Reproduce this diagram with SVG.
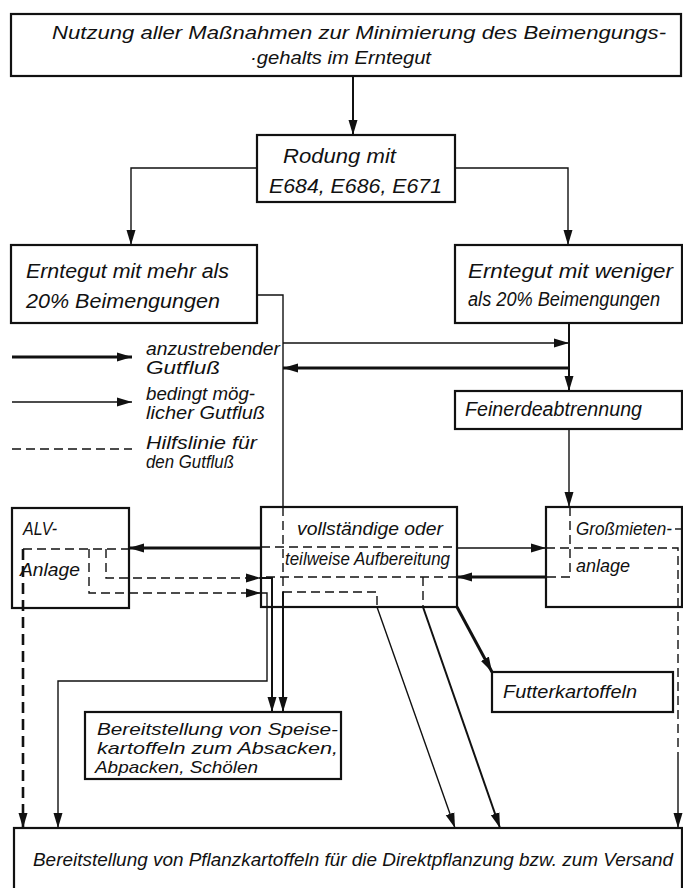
<svg xmlns="http://www.w3.org/2000/svg" width="683" height="888" viewBox="0 0 683 888">
<style>
.box{fill:#fff;stroke:#111;stroke-width:2.2}
.t{font-family:"Liberation Sans",Arial,sans-serif;font-style:italic;font-size:19px;fill:#111}
.b{font-size:20px}
.s{font-size:18px}
.xs{font-size:17px}
.thin{fill:none;stroke:#111;stroke-width:1.4}
.mid{fill:none;stroke:#111;stroke-width:2}
.thick{fill:none;stroke:#111;stroke-width:3}
.dash{fill:none;stroke:#111;stroke-width:1.4;stroke-dasharray:9 5}
.dashT{fill:none;stroke:#111;stroke-width:2.6;stroke-dasharray:11 6}
</style>
<defs>
<marker id="ah" markerUnits="userSpaceOnUse" markerWidth="16" markerHeight="10" refX="15" refY="5" orient="auto"><path d="M0,0.5 L15,5 L0,9.5 Z" fill="#111"/></marker>
</defs>
<rect width="683" height="888" fill="#fff"/>

<g id="connectors">
<path class="mid" d="M353,76 V135" marker-end="url(#ah)"/>
<path class="thin" d="M257,168 H131 V245" marker-end="url(#ah)"/>
<path class="thin" d="M455,168 H568 V245" marker-end="url(#ah)"/>
<path class="thin" d="M257,295 H283 V507"/>
<path class="dash" d="M283,507 V592"/>
<path class="mid" d="M283,592 V712" marker-end="url(#ah)"/>
<path class="thin" d="M283,343 H569" marker-end="url(#ah)"/>
<path class="thick" d="M569,368 H283" marker-end="url(#ah)"/>
<path class="mid" d="M569,323 V391" marker-end="url(#ah)"/>
<path class="thin" d="M569,429 V507" marker-end="url(#ah)"/>
<path class="thick" d="M261,548 H129" marker-end="url(#ah)"/>
<path class="dash" d="M23,549 H132"/>
<path class="dashT" d="M23,549 V828" marker-end="url(#ah)"/>
<path class="dash" d="M89,549 V593 H261" marker-end="url(#ah)"/>
<path class="thin" d="M261,593 H267 V681 H58 V828" marker-end="url(#ah)"/>
<path class="dash" d="M106,549 V578 H261" marker-end="url(#ah)"/>
<path class="mid" d="M261,578 H272 V712" marker-end="url(#ah)"/>
<path class="dash" d="M261,547 H457"/>
<path class="thin" d="M457,548 H546" marker-end="url(#ah)"/>
<path class="dash" d="M546,548 H678 V753"/>
<path class="thin" d="M678,753 V828" marker-end="url(#ah)"/>
<path class="dash" d="M570,507 V577 H546"/>
<path class="thick" d="M546,577 H457" marker-end="url(#ah)"/>
<path class="dash" d="M457,577 H261"/>
<path class="dash" d="M283,592 H377 V607"/>
<path class="thin" d="M377,607 L455,828" marker-end="url(#ah)"/>
<path class="dash" d="M423,577 V607"/>
<path class="mid" d="M423,607 L500,828" marker-end="url(#ah)"/>
<path class="thick" d="M457,607 L492,672" marker-end="url(#ah)"/>
<path class="dash" d="M675,529 H683"/>
</g>

<g id="n-top">
<rect class="box" x="11" y="14" width="670" height="62"/>
<text class="t" x="52" y="39" textLength="614" lengthAdjust="spacingAndGlyphs">Nutzung aller Maßnahmen zur Minimierung des Beimengungs-</text>
<text class="t" x="250" y="64" textLength="181" lengthAdjust="spacingAndGlyphs">·gehalts im Erntegut</text>
</g>

<g id="n-rodung">
<rect class="box" x="257" y="135" width="198" height="67"/>
<text class="t b" x="283" y="163" textLength="113" lengthAdjust="spacingAndGlyphs">Rodung mit</text>
<text class="t b" x="269" y="193" textLength="173" lengthAdjust="spacingAndGlyphs">E684, E686, E671</text>
</g>

<g id="n-mehr">
<rect class="box" x="11" y="245" width="246" height="78"/>
<text class="t b" x="26" y="278" textLength="203" lengthAdjust="spacingAndGlyphs">Erntegut mit mehr als</text>
<text class="t b" x="26" y="308" textLength="194" lengthAdjust="spacingAndGlyphs">20% Beimengungen</text>
</g>

<g id="n-weniger">
<rect class="box" x="455" y="245" width="227" height="78"/>
<text class="t b" x="468" y="278" textLength="205" lengthAdjust="spacingAndGlyphs">Erntegut mit weniger</text>
<text class="t b" x="468" y="306" textLength="192" lengthAdjust="spacingAndGlyphs">als 20% Beimengungen</text>
</g>

<g id="legend">
<path class="thick" d="M12,357 H132" marker-end="url(#ah)"/>
<path class="thin" d="M12,402 H132" marker-end="url(#ah)"/>
<path class="dash" d="M12,449 H132"/>
<text class="t s" x="146" y="355" textLength="134" lengthAdjust="spacingAndGlyphs">anzustrebender</text>
<text class="t s" x="146" y="374" textLength="74" lengthAdjust="spacingAndGlyphs">Gutfluß</text>
<text class="t s" x="146" y="400" textLength="109" lengthAdjust="spacingAndGlyphs">bedingt mög-</text>
<text class="t s" x="146" y="419" textLength="119" lengthAdjust="spacingAndGlyphs">licher Gutfluß</text>
<text class="t s" x="146" y="449" textLength="111" lengthAdjust="spacingAndGlyphs">Hilfslinie für</text>
<text class="t s" x="146" y="468" textLength="88" lengthAdjust="spacingAndGlyphs">den Gutfluß</text>
</g>

<g id="n-feinerde">
<rect class="box" x="455" y="391" width="227" height="38"/>
<text class="t b" x="465" y="416" textLength="177" lengthAdjust="spacingAndGlyphs">Feinerdeabtrennung</text>
</g>

<g id="n-alv">
<rect class="box" x="12" y="508" width="117" height="100" style="fill:none"/>
<text class="t" x="23" y="535" textLength="34" lengthAdjust="spacingAndGlyphs">ALV-</text>
<text class="t" x="20" y="576" textLength="60" lengthAdjust="spacingAndGlyphs">Anlage</text>
</g>

<g id="n-aufbereitung">
<rect class="box" x="261" y="507" width="196" height="100" style="fill:none"/>
<text class="t" x="297" y="535" textLength="146" lengthAdjust="spacingAndGlyphs">vollständige oder</text>
<text class="t" x="285" y="565" textLength="165" lengthAdjust="spacingAndGlyphs">teilweise Aufbereitung</text>
</g>

<g id="n-grossmieten">
<rect class="box" x="546" y="507" width="136" height="100" style="fill:none"/>
<text class="t s" x="576" y="535" textLength="96" lengthAdjust="spacingAndGlyphs">Großmieten-</text>
<text class="t" x="576" y="572" textLength="54" lengthAdjust="spacingAndGlyphs">anlage</text>
</g>

<g id="n-futter">
<rect class="box" x="492" y="672" width="181" height="40"/>
<text class="t" x="503" y="698" textLength="134" lengthAdjust="spacingAndGlyphs">Futterkartoffeln</text>
</g>

<g id="n-speise">
<rect class="box" x="85" y="712" width="256" height="67"/>
<text class="t xs" x="97" y="735" textLength="241" lengthAdjust="spacingAndGlyphs">Bereitstellung von Speise-</text>
<text class="t xs" x="97" y="754" textLength="241" lengthAdjust="spacingAndGlyphs">kartoffeln zum Absacken,</text>
<text class="t xs" x="95" y="773" textLength="163" lengthAdjust="spacingAndGlyphs">Abpacken, Schölen</text>
</g>

<g id="n-pflanz">
<rect class="box" x="14" y="828" width="668" height="80"/>
<text class="t" x="33" y="866" textLength="640" lengthAdjust="spacingAndGlyphs">Bereitstellung von Pflanzkartoffeln für die Direktpflanzung bzw. zum Versand</text>
</g>
</svg>
